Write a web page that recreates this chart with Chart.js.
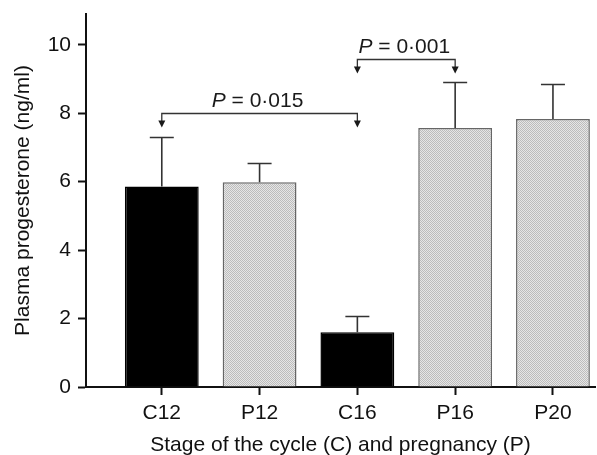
<!DOCTYPE html>
<html>
<head>
<meta charset="utf-8">
<script src="https://cdn.jsdelivr.net/npm/chart.js@4.4.1/dist/chart.umd.min.js"></script>
<style>
  html, body { margin: 0; padding: 0; background: #fff; }
  #wrap { width: 597px; height: 455px; }
</style>
</head>
<body>
<div id="wrap"><canvas id="progChart"></canvas></div>
<script>
const stages = ['C12', 'P12', 'C16', 'P16', 'P20'];
const progesterone = [5.86, 5.98, 1.60, 7.57, 7.83];
const sem = [1.44, 0.58, 0.48, 1.33, 1.01];
const yTicks = [0, 2, 4, 6, 8, 10];
const comparisons = [
    { from: 'C12', to: 'C16', level: 8.0, label: '0·015' },
    { from: 'C16', to: 'P16', level: 9.58, label: '0·001' }
];

const ctx = document.getElementById('progChart').getContext('2d');

// fine grey stipple like the printed bars
function stipple() {
    const c = document.createElement('canvas');
    c.width = 2; c.height = 2;
    const g = c.getContext('2d');
    g.fillStyle = '#e6e6e6';
    g.fillRect(0, 0, 2, 2);
    g.fillStyle = '#bcbcbc';
    g.fillRect(0, 0, 1, 1);
    g.fillRect(1, 1, 1, 1);
    return ctx.createPattern(c, 'repeat');
}
const greyFill = stipple();

const errorBars = {
    id: 'errorBars',
    afterDatasetsDraw(chart) {
        const { ctx, scales: { y } } = chart;
        const meta = chart.getDatasetMeta(0);
        ctx.save();
        ctx.strokeStyle = '#333';
        ctx.lineWidth = 1.6;
        meta.data.forEach((bar, i) => {
            const top = Math.round(y.getPixelForValue(progesterone[i] + sem[i])) + 0.5;
            const base = y.getPixelForValue(progesterone[i]);
            ctx.beginPath();
            ctx.moveTo(bar.x, base);
            ctx.lineTo(bar.x, top);
            ctx.moveTo(bar.x - 12, top);
            ctx.lineTo(bar.x + 12, top);
            ctx.stroke();
        });
        ctx.restore();
    }
};

const brackets = {
    id: 'brackets',
    afterDraw(chart) {
        const { ctx, scales: { x, y } } = chart;
        ctx.save();
        ctx.strokeStyle = '#333';
        ctx.fillStyle = '#1a1a1a';
        ctx.lineWidth = 1.3;
        comparisons.forEach(c => {
            const x1 = x.getPixelForValue(stages.indexOf(c.from) + 1);
            const x2 = x.getPixelForValue(stages.indexOf(c.to) + 1);
            const yy = Math.round(y.getPixelForValue(c.level)) + 0.5;
            ctx.beginPath();
            ctx.moveTo(x1, yy + 8);
            ctx.lineTo(x1, yy);
            ctx.lineTo(x2, yy);
            ctx.lineTo(x2, yy + 8);
            ctx.stroke();
            [x1, x2].forEach(ax => {
                ctx.beginPath();
                ctx.moveTo(ax - 3.5, yy + 7);
                ctx.lineTo(ax + 3.5, yy + 7);
                ctx.lineTo(ax, yy + 14);
                ctx.closePath();
                ctx.fill();
            });
            const italic = 'italic 21px "Liberation Sans"';
            const normal = '21px "Liberation Sans"';
            const rest = ' = ' + c.label;
            ctx.font = italic;
            const wP = ctx.measureText('P').width;
            ctx.font = normal;
            const wR = ctx.measureText(rest).width;
            const tx = (x1 + x2) / 2 - (wP + wR) / 2 - 2;
            ctx.textAlign = 'left';
            ctx.textBaseline = 'alphabetic';
            ctx.font = italic;
            ctx.fillText('P', tx, yy - 7);
            ctx.font = normal;
            ctx.fillText(rest, tx + wP, yy - 7);
        });
        ctx.restore();
    }
};

Chart.defaults.font.family = '"Liberation Sans", Arial, sans-serif';
Chart.defaults.font.size = 21;
Chart.defaults.color = '#111';

const axisGrid = { drawOnChartArea: false, drawTicks: true, tickLength: 8, tickWidth: 2, tickColor: '#111', offset: false };
const axisBorder = { display: true, color: '#111', width: 2 };

new Chart(ctx, {
    type: 'bar',
    data: {
        datasets: [{
            data: stages.map((s, i) => ({ x: i + 1, y: progesterone[i] })),
            backgroundColor: stages.map(s => s.startsWith('C') ? '#000' : greyFill),
            borderColor: stages.map(s => s.startsWith('C') ? '#000' : '#666'),
            borderWidth: 1.5,
            barPercentage: 0.755,
            categoryPercentage: 1
        }]
    },
    options: {
        responsive: true,
        maintainAspectRatio: false,
        animation: false,
        layout: { padding: { top: 14, right: 2, left: 0, bottom: 0 } },
        plugins: {
            legend: { display: false },
            tooltip: { enabled: false }
        },
        scales: {
            x: {
                type: 'linear',
                min: 0.225,
                max: 5.43,
                offset: false,
                afterBuildTicks: s => { s.ticks = stages.map((_, i) => ({ value: i + 1 })); },
                afterFit: s => { s.height = 68; s.paddingLeft = 0; s.paddingRight = 0; },
                ticks: { callback: v => stages[v - 1], padding: 6, maxRotation: 0, autoSkip: false },
                grid: axisGrid,
                border: axisBorder,
                title: {
                    display: true,
                    text: 'Stage of the cycle (C) and pregnancy (P)',
                    padding: { top: 0, bottom: -3 }
                }
            },
            y: {
                min: 0,
                max: 10.9,
                afterBuildTicks: s => { s.ticks = yTicks.map(v => ({ value: v })); },
                afterFit: s => { s.width = 86; s.paddingTop = 0; s.paddingBottom = 0; },
                ticks: { padding: 7 },
                grid: axisGrid,
                border: axisBorder,
                title: {
                    display: true,
                    text: 'Plasma progesterone (ng/ml)',
                    padding: { top: 11, bottom: 0 }
                }
            }
        }
    },
    plugins: [errorBars, brackets]
});
</script>
</body>
</html>
